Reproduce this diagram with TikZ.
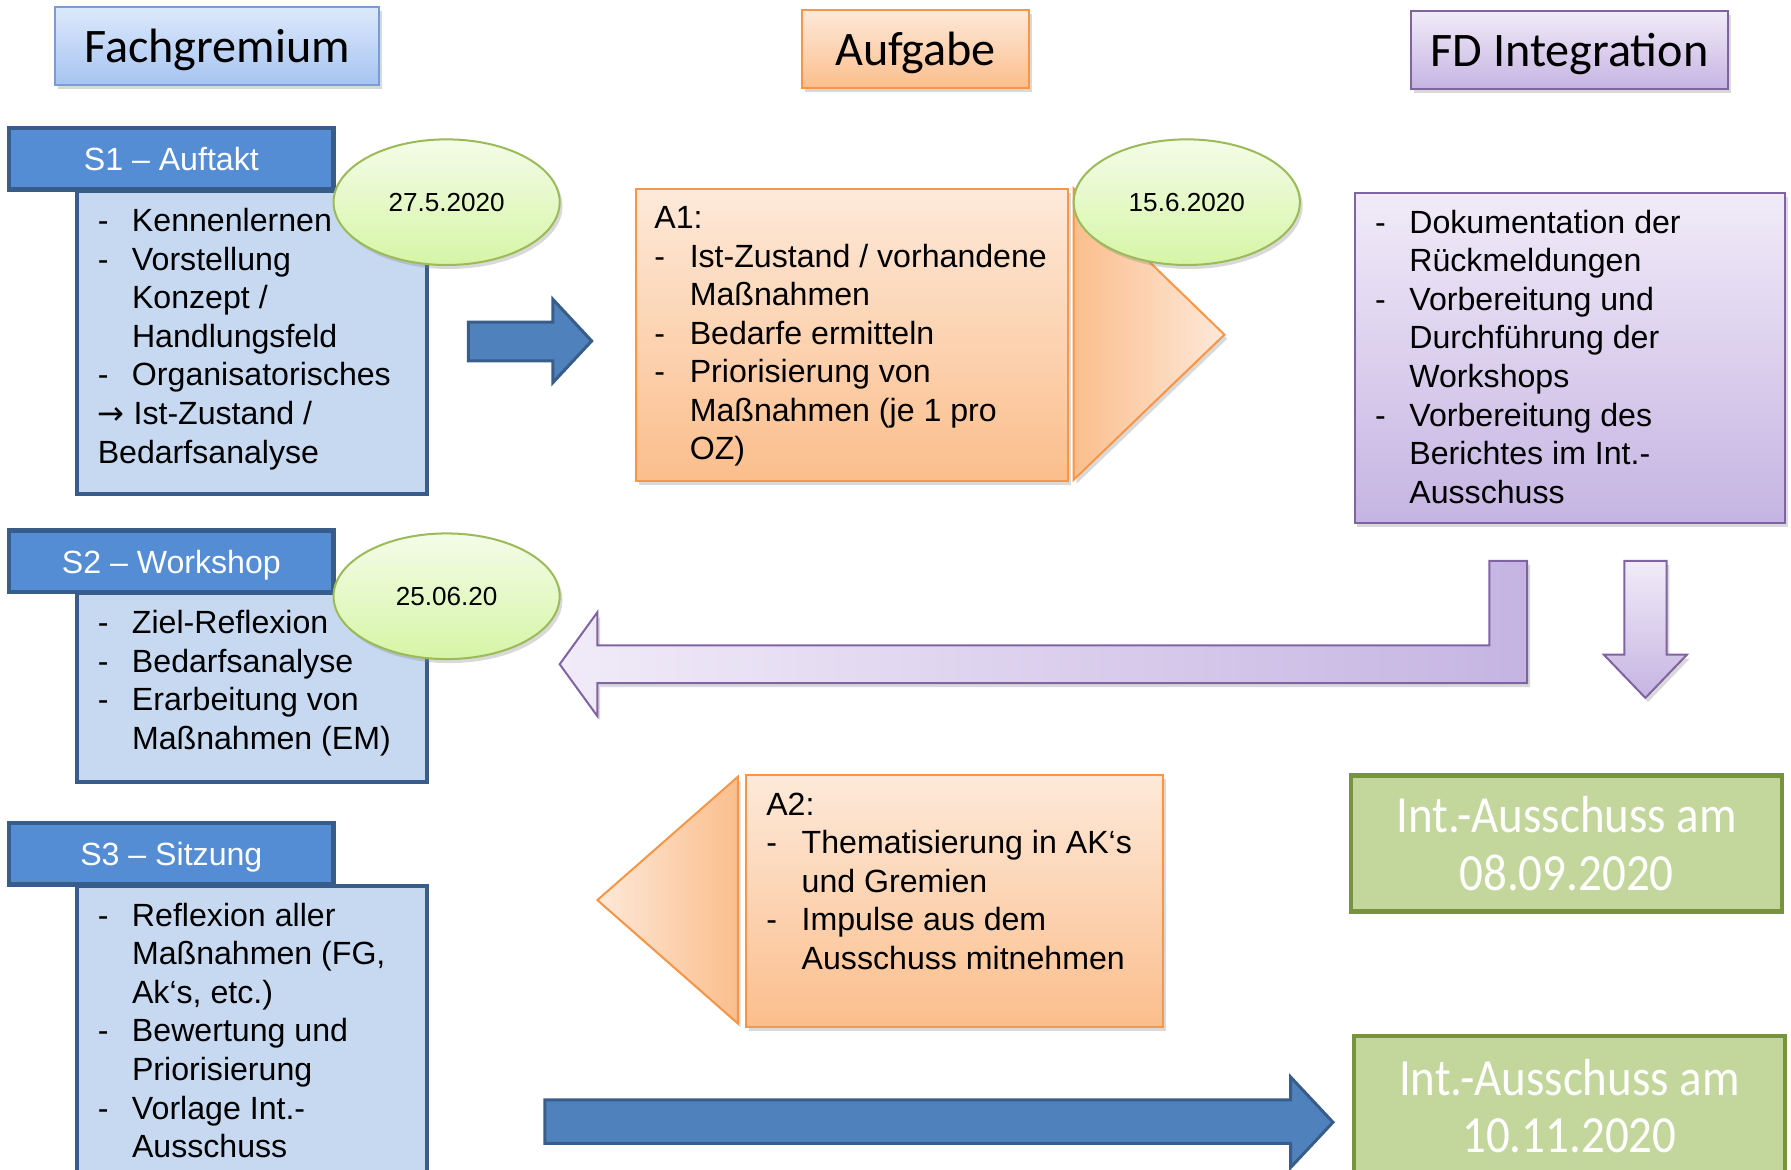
\documentclass[tikz,border=0pt]{standalone}
\usepackage{fontspec}
\setmainfont{Liberation Sans}
\newfontfamily\calibri{Carlito}
\newfontfamily\calibrinarrow[FakeStretch=0.9]{Carlito}
\newfontfamily\symfont{DejaVu Sans}
\usepackage{xcolor}
\usepackage{tikz}
\usetikzlibrary{positioning, shapes.geometric, shadows, calc}
\definecolor{sblue}{RGB}{84,141,212}
\definecolor{sbluedark}{RGB}{56,93,138}
\definecolor{sbluelight}{RGB}{198,217,241}
\definecolor{arrowblue}{RGB}{79,129,189}
\definecolor{headtop}{RGB}{221,233,251}
\definecolor{headbottom}{RGB}{166,196,241}
\definecolor{headline}{RGB}{120,157,214}
\definecolor{orangetop}{RGB}{253,233,217}
\definecolor{orangebottom}{RGB}{251,190,140}
\definecolor{orangeline}{RGB}{247,150,70}
\definecolor{lilatop}{RGB}{241,235,248}
\definecolor{lilabottom}{RGB}{197,180,226}
\definecolor{lilaline}{RGB}{128,100,162}
\definecolor{limetop}{RGB}{244,252,232}
\definecolor{limebottom}{RGB}{214,245,166}
\definecolor{limeline}{RGB}{155,187,89}
\definecolor{olivefill}{RGB}{195,214,155}
\definecolor{oliveline}{RGB}{119,147,60}

\newlength\itmind
\setlength\itmind{6mm}
\newcommand{\itm}[1]{\par\hangindent=\itmind\hangafter=1\noindent\makebox[\itmind][l]{-}#1}
\newcommand{\boxtxt}[3]{\parbox[t][#2][t]{#1}{\rightskip=0pt plus 1fil #3}}

\begin{document}
\begin{tikzpicture}[x=0.2mm, y=-0.2mm,
    softshadow/.style={drop shadow={opacity=0.3, shadow xshift=0.5mm, shadow yshift=-0.7mm}},
    headbox/.style={draw=headline, line width=1pt, top color=headtop, bottom color=headbottom,
      minimum width=#1, minimum height=13.6mm, text depth=0pt, font=\calibri\fontsize{24}{28}\selectfont, softshadow},
    stitle/.style={draw=sbluedark, line width=2.2pt, fill=sblue, text=white, text depth=0pt,
      minimum width=56.8mm, minimum height=10.8mm, font=\fontsize{16}{19.2}\selectfont},
    sbody/.style={draw=sbluedark, line width=1.8pt, fill=sbluelight, anchor=north west,
      inner xsep=3.6mm, inner ysep=3mm, font=\fontsize{16}{19.2}\selectfont},
    datum/.style={ellipse, draw=limeline, line width=1pt, top color=limetop, bottom color=limebottom,
      minimum width=39.6mm, minimum height=22mm, inner sep=0pt, font=\fontsize{13}{15}\selectfont, softshadow},
    task/.style={draw=orangeline, line width=1pt, top color=orangetop, bottom color=orangebottom,
      anchor=north west, inner xsep=3.6mm, inner ysep=3mm, font=\fontsize{16}{19.2}\selectfont, softshadow},
    fdbox/.style={draw=lilaline, line width=1pt, top color=lilatop, bottom color=lilabottom,
      anchor=north west, inner xsep=3.6mm, inner ysep=3mm, font=\fontsize{16}{19.2}\selectfont, softshadow},
    meeting/.style={draw=oliveline, line width=2.2pt, fill=olivefill, text=white, align=center,
      minimum width=75.4mm, font=\calibrinarrow\fontsize{26}{28.5}\selectfont},
    taskarrow/.style={draw=orangeline, line width=1pt, softshadow},
    lilaarrow/.style={draw=lilaline, line width=1pt, softshadow},
    bluearrow/.style={draw=sbluedark, line width=1.5pt, fill=arrowblue}]
\useasboundingbox (0,0) rectangle (1568,1024);

\node[headbox=56.8mm] (fg) at (190,40) {Fachgremium};
\node[headbox=39.8mm, draw=orangeline, top color=orangetop, bottom color=orangebottom] (auf) at (801.5,43) {Aufgabe};
\node[headbox=55.6mm, draw=lilaline, top color=lilatop, bottom color=lilabottom] (fdi) at (1374,44) {FD Integration};

% Fachgremium
\node[sbody] (s1body) at (66,166) {\boxtxt{54mm}{47mm}{%
  \itm{Kennenlernen}
  \itm{Vorstellung\\Konzept /\\Handlungsfeld}
  \itm{Organisatorisches}
  \par\noindent{\symfont →} Ist-Zustand /\\Bedarfsanalyse}};
\node[stitle] (s1) at (150,139) {S1 – Auftakt};
\node[datum] (d1) at (391,177) {27.5.2020};

\node[sbody] (s2body) at (66,518) {\boxtxt{54mm}{27mm}{%
  \itm{Ziel-Reflexion}
  \itm{Bedarfsanalyse}
  \itm{Erarbeitung von\\Maßnahmen (EM)}}};
\node[stitle] (s2) at (150,491.5) {S2 – Workshop};
\node[datum] (d2) at (391,522) {25.06.20};

\node[sbody] (s3body) at (66,774) {\boxtxt{54mm}{45.2mm}{%
  \itm{Reflexion aller\\Maßnahmen (FG,\\Ak‘s, etc.)}
  \itm{Bewertung und\\Priorisierung}
  \itm{Vorlage Int.-\\Ausschuss}}};
\node[stitle] (s3) at (150,747.5) {S3 – Sitzung};

% Aufgabe
\draw[taskarrow, left color=orangebottom, right color=orangetop]
  (940,165) -- (1072,293) -- (940,420) -- cycle;
\node[task, inner xsep=3.2mm] (a1) at (556,165) {\boxtxt{69.2mm}{45mm}{%
  \setlength\itmind{6.2mm}A1:
  \itm{Ist-Zustand / vorhandene\\Maßnahmen}
  \itm{Bedarfe ermitteln}
  \itm{Priorisierung von\\Maßnahmen (je 1 pro\\OZ)}}};
\node[datum] (d3) at (1039,177) {15.6.2020};

\draw[taskarrow, left color=orangetop, right color=orangebottom]
  (646,680) -- (523,788) -- (646,896) -- cycle;
\node[task] (a2) at (652,678) {\boxtxt{65.8mm}{38mm}{%
  \setlength\itmind{6.2mm}A2:
  \itm{Thematisierung in AK‘s\\und Gremien}
  \itm{Impulse aus dem\\Ausschuss mitnehmen}}};

% FD Integration
\node[fdbox] (fd) at (1185,168) {\boxtxt{68.2mm}{51.8mm}{%
  \itm{Dokumentation der\\Rückmeldungen}
  \itm{Vorbereitung und\\Durchführung der\\Workshops}
  \itm{Vorbereitung des\\Berichtes im Int.-\\Ausschuss}}};

\node[meeting, minimum height=23.8mm] (ia1) at (1371.5,738.5) {Int.-Ausschuss am\\08.09.2020};
\node[meeting, minimum height=24.6mm] (ia2) at (1374,968.5) {Int.-Ausschuss am\\10.11.2020};

% Pfeile
\draw[bluearrow] (410,282) -- (484,282) -- (484,262) -- (518,298.5) -- (484,335) -- (484,316) -- (410,316) -- cycle;
\draw[lilaarrow, left color=lilatop, right color=lilabottom]
  (1304,491) -- (1337,491) -- (1337,598) -- (523,598) -- (523,627) -- (490,581.5)
  -- (523,536) -- (523,565) -- (1304,565) -- cycle;
\draw[lilaarrow, top color=lilatop, bottom color=lilabottom]
  (1422,491) -- (1459,491) -- (1459,573) -- (1477,573) -- (1440.5,611) -- (1404,573) -- (1422,573) -- cycle;
\draw[bluearrow] (477,963) -- (1130,963) -- (1130,943) -- (1167,982.5) -- (1130,1022) -- (1130,1001) -- (477,1001) -- cycle;
\end{tikzpicture}
\end{document}
